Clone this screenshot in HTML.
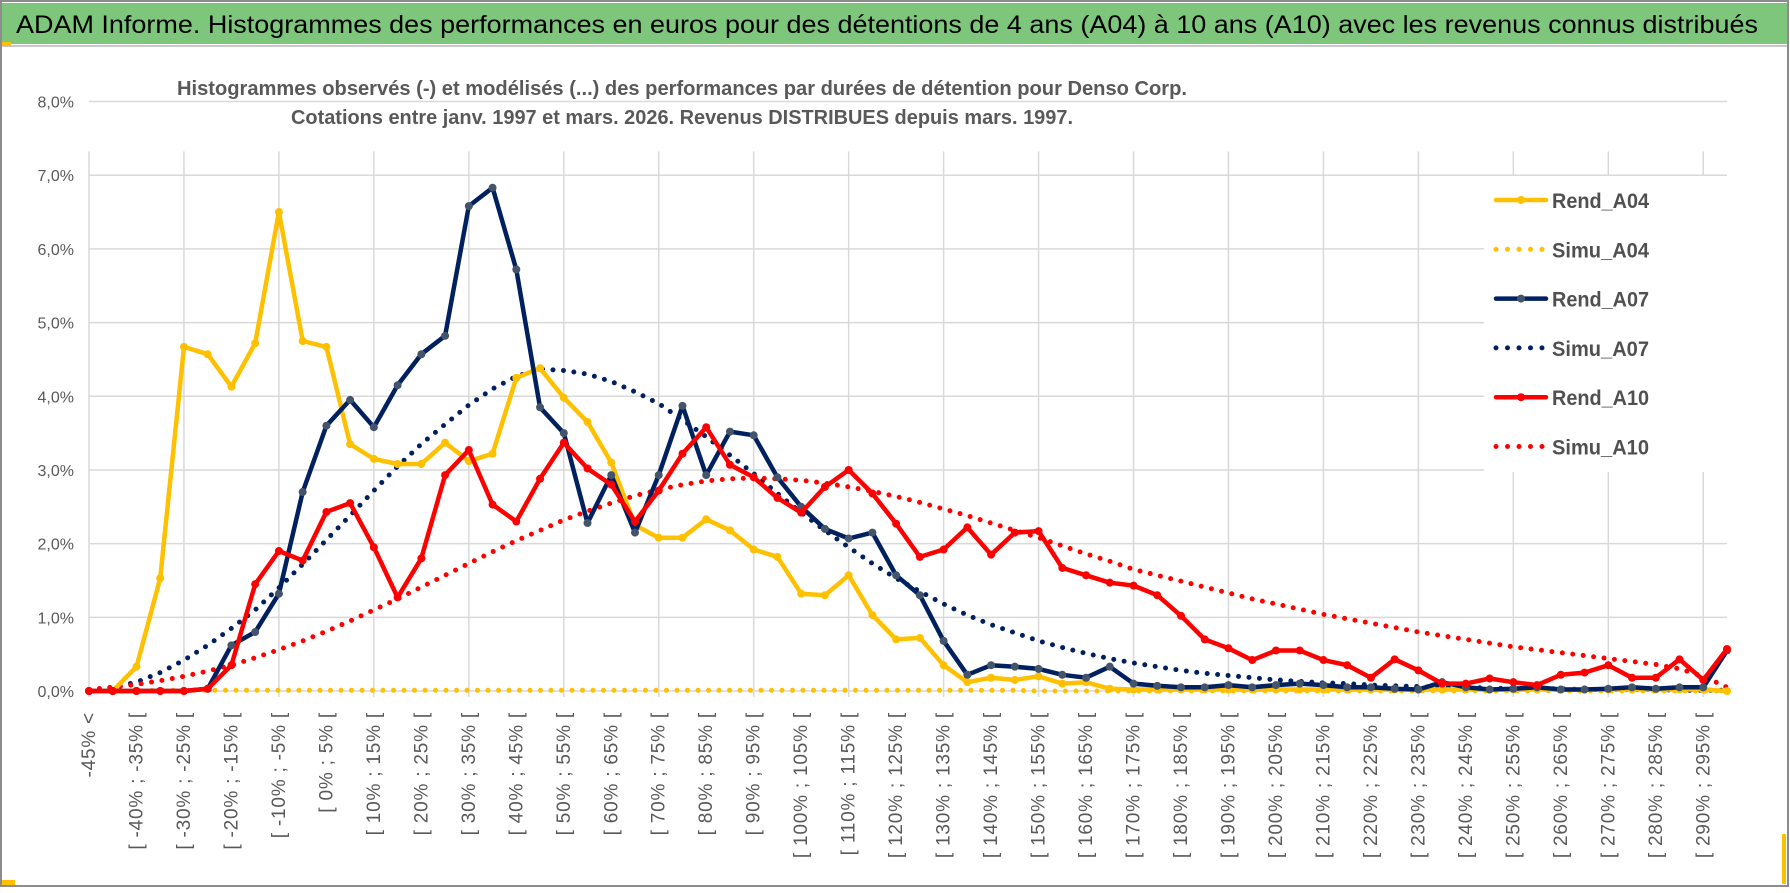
<!DOCTYPE html>
<html><head><meta charset="utf-8">
<style>
html,body{margin:0;padding:0;background:#fff;}
body{width:1790px;height:888px;overflow:hidden;position:relative;font-family:"Liberation Sans",sans-serif;}
</style></head>
<body>
<svg id="chart" width="1790" height="888" viewBox="0 0 1790 888" xmlns="http://www.w3.org/2000/svg">
  <rect x="0" y="0" width="1790" height="888" fill="#fff"/>
  <rect x="1" y="1" width="1787" height="885" fill="none" stroke="#8c8c8c" stroke-width="2"/>
  <rect x="2" y="3" width="1785" height="41" fill="#7dc67b"/>
  <line x1="2" y1="46" x2="1787" y2="46" stroke="#c8c8c8" stroke-width="2"/>
  <rect x="2" y="42" width="9" height="4" fill="#ffc000"/>
  <text x="16" y="33" font-size="25" fill="#000" textLength="1742" lengthAdjust="spacingAndGlyphs">ADAM Informe. Histogrammes des performances en euros pour des détentions de 4 ans (A04) à 10 ans (A10) avec les revenus connus distribués</text>
  <text x="682" y="95" font-size="20" font-weight="bold" fill="#595959" text-anchor="middle" textLength="1010" lengthAdjust="spacingAndGlyphs">Histogrammes observés (-) et modélisés (...) des performances par durées de détention pour Denso Corp.</text>
  <text x="682" y="124" font-size="20" font-weight="bold" fill="#595959" text-anchor="middle" textLength="782" lengthAdjust="spacingAndGlyphs">Cotations entre janv. 1997 et mars. 2026. Revenus DISTRIBUES depuis mars. 1997.</text>
  <g id="grid"></g>
  <g id="series"></g>
  <g id="axes"></g>
  <g id="legend"></g>
  <rect x="2" y="880" width="13" height="5" fill="#ffc000"/>
  <rect x="1782" y="834" width="4" height="50" fill="#ffc000"/>
</svg>
<script>
const categories = ["-45% <"];
for (let k = 0; k < 69; k++) { const a = -45 + 5*k; categories.push("[ " + a + "% ; " + (a+5) + "% ["); }
const yTicks = [0,1,2,3,4,5,6,7,8];
const yTickLabels = ["0,0%","1,0%","2,0%","3,0%","4,0%","5,0%","6,0%","7,0%","8,0%"];
const rendA04 = [0,0,0.33,1.53,4.67,4.57,4.13,4.72,6.5,4.75,4.67,3.35,3.15,3.08,3.08,3.37,3.12,3.22,4.25,4.38,3.98,3.65,3.1,2.25,2.08,2.08,2.33,2.18,1.92,1.82,1.32,1.3,1.57,1.03,0.7,0.72,0.35,0.12,0.18,0.15,0.2,0.1,0.12,0.03,0.02,0.02,0.02,0.02,0.02,0.02,0.02,0.02,0.02,0.02,0.02,0.02,0.02,0.02,0.02,0.02,0.02,0.02,0.02,0.02,0.02,0.02,0.02,0.02,0.02,0];
const simuA04 = [0,0,0,0.01,0.01,0.01,0.01,0.01,0.01,0.01,0.01,0.01,0.01,0.01,0.01,0.01,0.01,0.01,0.01,0.01,0.01,0.01,0.01,0.01,0.01,0.01,0.01,0.01,0.01,0.01,0.01,0.01,0.01,0.01,0.01,0.01,0.01,0.01,0.01,0.01,0,0,0,0,0,0,0,0,0,0,0,0,0,0,0,0,0,0,0,0,0,0,0,0,0,0,0,0,0,0];
const rendA07 = [0,0,0,0,0,0.03,0.62,0.8,1.32,2.7,3.6,3.95,3.58,4.15,4.57,4.82,6.58,6.83,5.72,3.85,3.5,2.28,2.93,2.15,2.93,3.87,2.93,3.52,3.47,2.9,2.5,2.2,2.07,2.15,1.57,1.3,0.68,0.22,0.35,0.33,0.3,0.22,0.18,0.33,0.1,0.07,0.05,0.05,0.08,0.05,0.08,0.1,0.08,0.05,0.05,0.03,0.02,0.12,0.05,0.02,0.03,0.05,0.02,0.02,0.03,0.05,0.03,0.05,0.05,0.55];
const simuA07 = [0.01,0.05,0.12,0.25,0.42,0.62,0.85,1.1,1.4,1.72,2.05,2.38,2.72,3.05,3.35,3.62,3.88,4.1,4.27,4.37,4.35,4.3,4.2,4.06,3.9,3.68,3.45,3.2,2.95,2.68,2.42,2.18,1.95,1.73,1.53,1.35,1.18,1.03,0.9,0.79,0.68,0.59,0.51,0.44,0.38,0.33,0.28,0.24,0.21,0.18,0.15,0.13,0.11,0.1,0.08,0.07,0.06,0.05,0.05,0.04,0.03,0.03,0.03,0.02,0.02,0.02,0.02,0.01,0.01,0.01];
const rendA10 = [0,0,0,0,0,0.03,0.35,1.45,1.9,1.77,2.43,2.55,1.95,1.27,1.8,2.93,3.27,2.53,2.3,2.88,3.37,3.02,2.8,2.3,2.72,3.22,3.58,3.07,2.9,2.62,2.42,2.77,3.0,2.68,2.27,1.82,1.92,2.22,1.85,2.15,2.17,1.67,1.57,1.47,1.43,1.3,1.02,0.7,0.58,0.42,0.55,0.55,0.42,0.35,0.18,0.43,0.28,0.1,0.1,0.17,0.12,0.08,0.22,0.25,0.35,0.18,0.18,0.43,0.15,0.57];
const simuA10 = [0.02,0.05,0.09,0.14,0.2,0.27,0.35,0.45,0.56,0.68,0.81,0.95,1.1,1.25,1.41,1.57,1.73,1.89,2.04,2.18,2.32,2.44,2.55,2.65,2.73,2.8,2.85,2.88,2.89,2.88,2.86,2.82,2.77,2.71,2.64,2.56,2.47,2.38,2.28,2.18,2.08,1.97,1.86,1.76,1.65,1.57,1.49,1.41,1.33,1.25,1.18,1.11,1.04,0.98,0.92,0.86,0.8,0.75,0.7,0.65,0.6,0.56,0.52,0.48,0.44,0.4,0.36,0.3,0.2,0.05];

const NS = "http://www.w3.org/2000/svg";
const X0 = 89, X1 = 1727, Y0 = 691, Y8 = 101.5;
function xPos(i){ return X0 + i*(X1-X0)/(categories.length-1); }
function yPos(v){ return Y0 - v*(Y0-Y8)/8; }
function mk(tag, attrs, parent){ const e = document.createElementNS(NS, tag); for (const k in attrs) e.setAttribute(k, attrs[k]); parent.appendChild(e); return e; }

const grid = document.getElementById("grid");
const axes = document.getElementById("axes");
yTicks.forEach((t, j) => {
  const ln = mk("line", {x1: X0, x2: X1, y1: yPos(t), y2: yPos(t), stroke: "#d9d9d9", "stroke-width": 1.5}, grid);
  
  
  const tx = mk("text", {x: 74, y: yPos(t)+6, "font-size": 16, fill: "#595959", "text-anchor": "end"}, axes);
  tx.textContent = yTickLabels[j];
  
  
});
categories.forEach((c, i) => {
  if (i % 4 === 0) {
    const ln = mk("line", {x1: xPos(i), x2: xPos(i), y1: Y8+50, y2: Y0+6, stroke: "#d9d9d9", "stroke-width": 1.5}, grid);
    
    
  }
  if (i % 2 === 0) {
    const x = xPos(i) + 6, y = 712;
    const tx = mk("text", {x: x, y: y, "font-size": 19, "letter-spacing": 0.8, fill: "#595959", "text-anchor": "end", transform: "rotate(-90 " + x + " " + y + ")"}, axes);
    tx.textContent = c;
    
    
  }
});

const seriesG = document.getElementById("series");
function drawLine(vals, color, dotted, marker, name){
  const pts = vals.map((v,i) => xPos(i).toFixed(1) + "," + yPos(v).toFixed(1)).join(" ");
  const attrs = {points: pts, fill: "none", stroke: color, "stroke-linejoin": "round", "stroke-linecap": "round"};
  if (dotted) { attrs["stroke-width"] = 5; attrs["stroke-dasharray"] = "0 10.5"; }
  else attrs["stroke-width"] = 4.5;
  const pl = mk("polyline", attrs, seriesG);
  
  
  if (marker) {
    vals.forEach((v,i) => {
      const c = mk("circle", {cx: xPos(i), cy: yPos(v), r: 4, fill: marker}, seriesG);
      
      
    });
  }
}
drawLine(simuA04, "#ffc000", true, null, "simu-a04-line");
drawLine(simuA07, "#002060", true, null, "simu-a07-line");
drawLine(simuA10, "#ff0000", true, null, "simu-a10-line");
drawLine(rendA04, "#ffc000", false, "#ffc000", "rend-a04-line");
drawLine(rendA07, "#002060", false, "#44546a", "rend-a07-line");
drawLine(rendA10, "#ff0000", false, "#ff0000", "rend-a10-line");

const legendNames = ["Rend_A04","Simu_A04","Rend_A07","Simu_A07","Rend_A10","Simu_A10"];
const legendColors = ["#ffc000","#ffc000","#002060","#002060","#ff0000","#ff0000"];
const legendMarkers = ["#ffc000",null,"#44546a",null,"#ff0000",null];
const lg = document.getElementById("legend");
const lbg = mk("rect", {x: 1484, y: 176, width: 246, height: 296, fill: "#fff"}, lg);


legendNames.forEach((n, j) => {
  const y = 200 + j*49.3;
  const g = mk("g", {}, lg);
  
  
  if (legendMarkers[j]) {
    mk("line", {x1: 1496, x2: 1546, y1: y, y2: y, stroke: legendColors[j], "stroke-width": 4.5, "stroke-linecap": "round"}, g);
    mk("circle", {cx: 1521, cy: y, r: 4, fill: legendMarkers[j]}, g);
  } else {
    mk("line", {x1: 1496, x2: 1546, y1: y, y2: y, stroke: legendColors[j], "stroke-width": 5, "stroke-linecap": "round", "stroke-dasharray": "0 11.5"}, g);
  }
  const t = mk("text", {x: 1552, y: y+8, "font-size": 21, "font-weight": "bold", fill: "#505050", textLength: 97, lengthAdjust: "spacingAndGlyphs"}, g);
  t.textContent = n;
});
</script>
</body></html>
